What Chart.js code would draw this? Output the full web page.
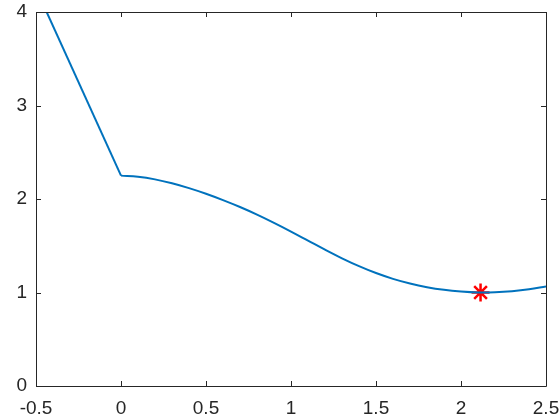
<!DOCTYPE html>
<html>
<head>
<meta charset="utf-8">
<script src="https://cdn.jsdelivr.net/npm/chart.js@4"></script>
<style>
  html, body { margin: 0; padding: 0; background: #fff; }
  #plot { display: block; }
</style>
</head>
<body>
<canvas id="plot" width="560" height="420"></canvas>
<script>
// straight piece left of the kink
const leftX = [-0.5, 0];
const leftY = [4.25, 2.25];

// smooth piece right of the kink
const xs = [0, 0.1, 0.2, 0.3, 0.4, 0.5, 0.6, 0.7, 0.8, 0.9, 1.0, 1.1, 1.2,
            1.3, 1.4, 1.5, 1.6, 1.7, 1.8, 1.9, 2.0, 2.1, 2.2, 2.3, 2.4, 2.5];
const ys = [2.25, 2.238, 2.210, 2.168, 2.116, 2.056, 1.988, 1.914, 1.833, 1.745, 1.652, 1.555, 1.458,
            1.366, 1.282, 1.208, 1.146, 1.096, 1.057, 1.029, 1.011, 1.001, 1.003, 1.014, 1.034, 1.064];

// minimum marker
const minX = [2.115];
const minY = [1.0];

const xTicks = [-0.5, 0, 0.5, 1, 1.5, 2, 2.5];
const yTicks = [0, 1, 2, 3, 4];

const axisColor = '#262626';
const lineColor = '#0072BD';
const labelFont = { family: 'Liberation Sans, Arial, sans-serif', size: 19 };

// box + inward tick marks like the original
const frame = {
    id: 'frame',
    afterDraw(chart) {
        const { ctx, chartArea: a, scales } = chart;
        ctx.save();
        ctx.strokeStyle = axisColor;
        ctx.lineWidth = 1;
        ctx.beginPath();
        ctx.rect(Math.round(a.left) + 0.5, Math.round(a.top) + 0.5,
                 Math.round(a.right - a.left), Math.round(a.bottom - a.top));
        xTicks.forEach(v => {
            const px = Math.round(scales.x.getPixelForValue(v)) + 0.5;
            ctx.moveTo(px, a.bottom); ctx.lineTo(px, a.bottom - 5);
            ctx.moveTo(px, a.top); ctx.lineTo(px, a.top + 5);
        });
        yTicks.forEach(v => {
            const py = Math.round(scales.y.getPixelForValue(v)) + 0.5;
            ctx.moveTo(a.left, py); ctx.lineTo(a.left + 5, py);
            ctx.moveTo(a.right, py); ctx.lineTo(a.right - 5, py);
        });
        ctx.stroke();
        ctx.restore();
    }
};

function noPad(s) {
    s.paddingTop = 0; s.paddingBottom = 0;
    s.paddingLeft = 0; s.paddingRight = 0;
}

const toPoints = (px, py) => px.map((x, i) => ({ x: x, y: py[i] }));

new Chart(document.getElementById('plot'), {
    type: 'line',
    data: {
        datasets: [{
            data: toPoints(leftX, leftY),
            borderColor: lineColor,
            borderWidth: 2,
            pointRadius: 0,
            tension: 0,
            fill: false
        }, {
            data: toPoints(xs, ys),
            borderColor: lineColor,
            borderWidth: 2,
            pointRadius: 0,
            tension: 0.4,
            fill: false
        }, {
            data: toPoints(minX, minY),
            showLine: false,
            pointStyle: 'star',
            pointRadius: 9,
            pointBorderWidth: 2.5,
            pointBorderColor: '#FF0000',
            pointBackgroundColor: '#FF0000'
        }]
    },
    options: {
        responsive: false,
        animation: false,
        layout: { padding: { top: 12, right: 14, left: 0, bottom: 0 } },
        plugins: {
            legend: { display: false },
            tooltip: { enabled: false }
        },
        scales: {
            x: {
                type: 'linear',
                min: -0.5,
                max: 2.5,
                afterBuildTicks: s => { s.ticks = xTicks.map(v => ({ value: v })); },
                afterFit: s => { s.height = 34; noPad(s); },
                grid: { display: false, drawTicks: false },
                border: { display: false },
                ticks: {
                    color: axisColor,
                    padding: 11,
                    maxRotation: 0,
                    autoSkip: false,
                    font: labelFont,
                    callback: v => String(v)
                }
            },
            y: {
                min: 0,
                max: 4,
                afterBuildTicks: s => { s.ticks = yTicks.map(v => ({ value: v })); },
                afterFit: s => { s.width = 36; noPad(s); },
                grid: { display: false, drawTicks: false },
                border: { display: false },
                ticks: {
                    color: axisColor,
                    padding: 9,
                    font: labelFont,
                    callback: v => String(v)
                }
            }
        }
    },
    plugins: [frame]
});
</script>
</body>
</html>
